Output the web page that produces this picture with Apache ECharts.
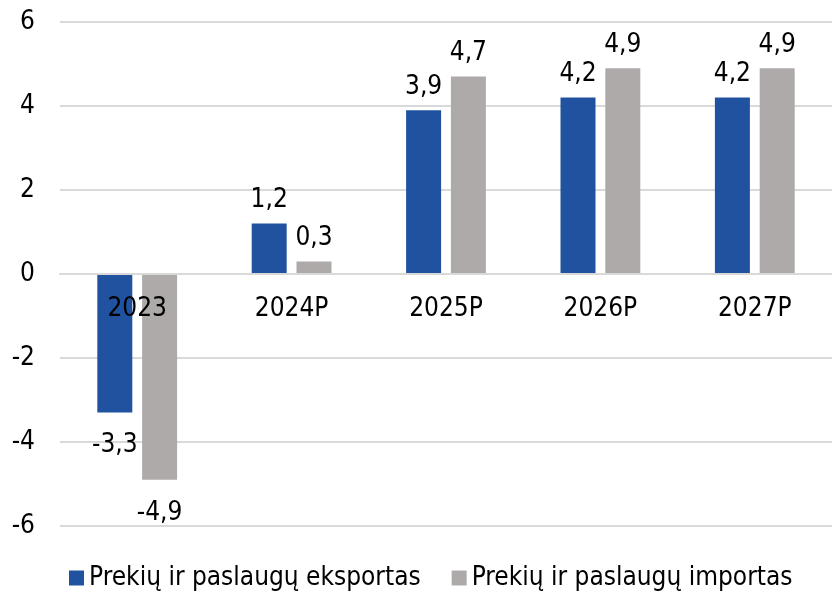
<!DOCTYPE html>
<html>
<head>
<meta charset="utf-8">
<script src="https://cdn.jsdelivr.net/npm/echarts@6/dist/echarts.min.js"></script>
<style>
html,body{margin:0;padding:0;background:#fff;}
#c{width:832px;height:592px;}
</style>
</head>
<body>
<div id="c"></div>
<script>
var categories = ['2023', '2024P', '2025P', '2026P', '2027P'];
var exportsVals = [-3.3, 1.2, 3.9, 4.2, 4.2];
var importsVals = [-4.9, 0.3, 4.7, 4.9, 4.9];
var seriesNames = ['Prekių ir paslaugų eksportas', 'Prekių ir paslaugų importas'];
var yTicks = [-6, -4, -2, 0, 2, 4, 6];

var FONT = '"DejaVu Sans Condensed", "DejaVu Sans", sans-serif';
var FS = 26;
var GRID_TOP = 22, GRID_BOTTOM = 66, H = 592;

function toData(arr) {
  return arr.map(function (v) {
    return {
      value: v,
      label: { position: v < 0 ? 'bottom' : 'top', distance: v < 0 ? 20 : 10 }
    };
  });
}
function fmt(p) { return String(p.value).replace('.', ','); }

var chart = echarts.init(document.getElementById('c'));
var plotH = H - GRID_TOP - GRID_BOTTOM;
var yMin = yTicks[0], yMax = yTicks[yTicks.length - 1];
// shift the category axis up to the zero line
var zeroOffset = -plotH * (0 - yMin) / (yMax - yMin);

chart.setOption({
  animation: false,
  textStyle: { fontFamily: FONT },
  grid: { left: 60, right: 0, top: GRID_TOP, bottom: GRID_BOTTOM, containLabel: false },
  legend: {
    left: 69, top: 565, padding: 0,
    itemWidth: 15, itemHeight: 15, itemGap: 31,
    icon: 'rect',
    textStyle: { fontFamily: FONT, fontSize: FS, color: '#000', padding: [0, 0, 0, 0] },
    data: seriesNames
  },
  xAxis: {
    type: 'category',
    data: categories,
    z: 10,
    position: 'bottom',
    offset: zeroOffset,
    axisLine: { show: true, onZero: false, lineStyle: { color: '#d9d9d9', width: 2 } },
    axisTick: { show: false },
    axisLabel: { fontFamily: FONT, fontSize: FS, color: '#000', margin: 22 }
  },
  yAxis: {
    type: 'value',
    min: yMin, max: yMax, interval: 2,
    axisLine: { show: false },
    axisTick: { show: false },
    splitLine: { lineStyle: { color: '#d9d9d9', width: 2 } },
    axisLabel: { fontFamily: FONT, fontSize: FS, color: '#000', margin: 25 }
  },
  series: [
    {
      name: seriesNames[0], type: 'bar', data: toData(exportsVals),
      barWidth: 35, barGap: '28%',
      itemStyle: { color: '#21529F' },
      label: { show: true, fontFamily: FONT, fontSize: FS, color: '#000', formatter: fmt }
    },
    {
      name: seriesNames[1], type: 'bar', data: toData(importsVals),
      barWidth: 35, barGap: '28%',
      itemStyle: { color: '#AEAAAA' },
      label: { show: true, fontFamily: FONT, fontSize: FS, color: '#000', formatter: fmt }
    }
  ]
});
</script>
</body>
</html>
